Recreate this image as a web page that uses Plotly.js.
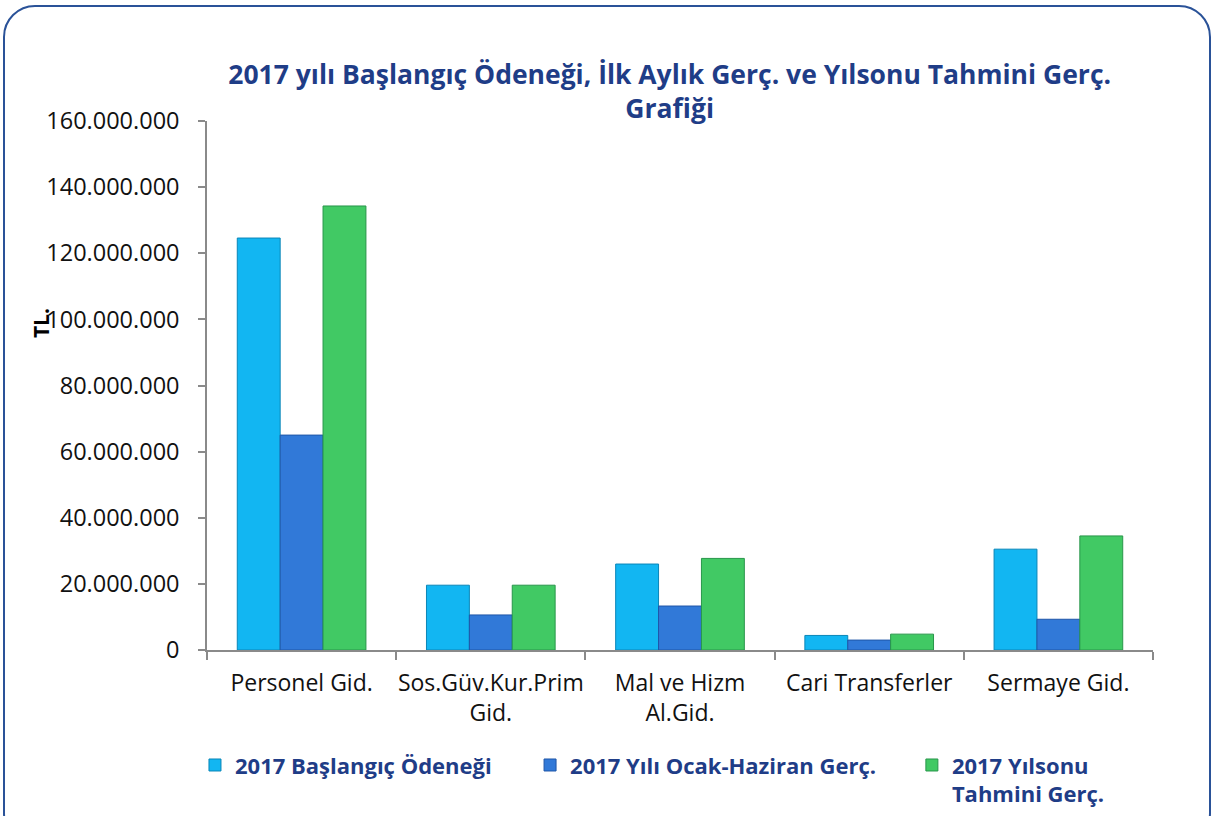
<!DOCTYPE html>
<html>
<head>
<meta charset="utf-8">
<script src="https://cdn.plot.ly/plotly-3.0.1.min.js"></script>
<style>
  html, body { margin: 0; padding: 0; background: #ffffff; overflow: hidden; }
  #wrap { position: relative; width: 1211px; height: 816px; overflow: hidden; }
  #chart { position: absolute; left: 0; top: 0; width: 1211px; height: 816px; }
  #frame { position: absolute; left: 3px; top: 5px; width: 1208px; height: 840px;
           border: 2.5px solid #2a5298; border-radius: 32px; pointer-events: none; box-sizing: border-box; }
</style>
</head>
<body>
<div id="wrap">
  <div id="chart"></div>
  <div id="frame"></div>
</div>
<script>
// ---- data ----
const categories = ["Personel Gid.", "Sos.Güv.Kur.Prim<br>Gid.", "Mal ve Hizm<br>Al.Gid.", "Cari Transferler", "Sermaye Gid."];
const seriesNames = ["2017 Başlangıç Ödeneği", "2017 Yılı Ocak-Haziran Gerç.", "2017 Yılsonu<br>Tahmini Gerç."];
const baslangicOdenegi = [124600000, 19600000, 26000000, 4400000, 30500000];
const ocakHaziranGerc = [65000000, 10600000, 13300000, 3000000, 9300000];
const yilsonuTahmini = [134300000, 19600000, 27700000, 4800000, 34500000];
const yTickVals = [0, 20000000, 40000000, 60000000, 80000000, 100000000, 120000000, 140000000, 160000000];

const fillColors = ["#12b6f2", "#3179d8", "#41c964"];
const edgeColors = ["#0a86b8", "#1f56a8", "#28964a"];
const legendIds = ["legend", "legend2", "legend3"];
const seriesData = [baslangicOdenegi, ocakHaziranGerc, yilsonuTahmini];

const traces = seriesData.map((vals, i) => ({
  type: "bar",
  x: categories,
  y: vals,
  name: seriesNames[i],
  legend: legendIds[i],
  marker: { color: fillColors[i], line: { color: edgeColors[i], width: 1 } },
  hoverinfo: "x+y"
}));

const legendFont = { family: "Open Sans, sans-serif", size: 22, color: "#1f3d87", weight: "bold" };
const legendBase = {
  orientation: "v", xref: "container", yref: "container", xanchor: "left", yanchor: "top",
  y: 0.088, font: legendFont, bgcolor: "rgba(0,0,0,0)", valign: "top",
  itemclick: false, itemdoubleclick: false
};

const layout = {
  width: 1211, height: 816,
  margin: { l: 207, r: 58, t: 121, b: 166, autoexpand: false },
  paper_bgcolor: "#ffffff",
  plot_bgcolor: "#ffffff",
  separators: ",.",
  showlegend: true,
  barmode: "group",
  bargap: 0.32,
  bargroupgap: 0,
  title: {
    text: "2017 yılı Başlangıç Ödeneği, İlk Aylık Gerç. ve Yılsonu Tahmini Gerç.<br>Grafiği",
    font: { family: "Open Sans, sans-serif", size: 26.5, color: "#1f3d87", weight: "bold" },
    x: 0.553, xanchor: "center", xref: "container",
    y: 0.897, yanchor: "middle", yref: "container"
  },
  xaxis: {
    type: "category",
    showline: true, linecolor: "#8a8a8a", linewidth: 1.5,
    ticks: "outside", tickson: "boundaries", ticklen: 8, tickcolor: "#8a8a8a", tickwidth: 1.5,
    ticklabelstandoff: 12, tickangle: 0,
    tickfont: { family: "Open Sans, sans-serif", size: 23, color: "#111111" },
    showgrid: false, zeroline: false
  },
  yaxis: {
    range: [0, 160000000],
    tickvals: yTickVals,
    tickformat: ",d",
    showline: true, linecolor: "#8a8a8a", linewidth: 1.5,
    ticks: "outside", ticklen: 7, tickcolor: "#8a8a8a", tickwidth: 1.5,
    ticklabelstandoff: 14,
    tickfont: { family: "Open Sans, sans-serif", size: 23.5, color: "#111111" },
    showgrid: false, zeroline: false
  },
  legend: Object.assign({}, legendBase, { x: 0.161 }),
  legend2: Object.assign({}, legendBase, { x: 0.4377 }),
  legend3: Object.assign({}, legendBase, { x: 0.753 }),
  annotations: [{
    text: "TL.", textangle: -90, showarrow: false,
    xref: "paper", yref: "paper", x: 0, y: 0.618, xanchor: "center", yanchor: "middle",
    xshift: -166,
    font: { family: "Open Sans, sans-serif", size: 21, color: "#000000", weight: "bold" }
  }]
};

Plotly.newPlot("chart", traces, layout, { displayModeBar: false });
</script>
</body>
</html>
